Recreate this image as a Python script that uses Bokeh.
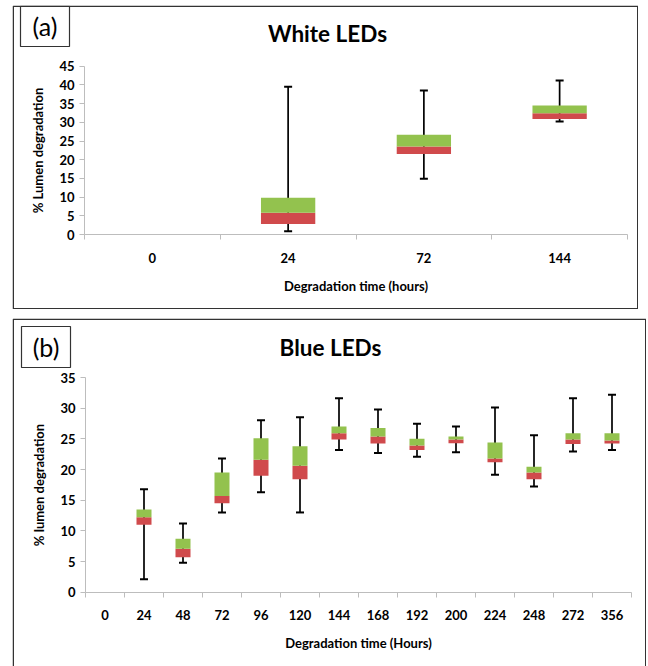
from bokeh.plotting import figure
from bokeh.models import Label, FixedTicker, Range1d, ColumnDataSource, BoxAnnotation
from bokeh.layouts import column
from bokeh.embed import file_html
from bokeh.resources import INLINE

# ---------------- data: panel (a) White LEDs ----------------
cats_a = ["0", "24", "72", "144"]
box_cats_a = ["24", "72", "144"]
low_a = [0.9, 14.9, 30.2]
q1_a = [2.8, 21.5, 30.9]
med_a = [5.8, 23.5, 32.4]
q3_a = [9.8, 26.7, 34.5]
high_a = [39.5, 38.5, 41.2]
yticks_a = [0, 5, 10, 15, 20, 25, 30, 35, 40, 45]

# ---------------- data: panel (b) Blue LEDs ----------------
cats_b = ["0", "24", "48", "72", "96", "120", "144", "168", "192", "200",
          "224", "248", "272", "356"]
box_cats_b = ["24", "48", "72", "96", "120", "144", "168", "192", "200",
              "224", "248", "272", "356"]
low_b = [2.1, 4.8, 13.0, 16.3, 13.0, 23.2, 22.7, 22.1, 22.8, 19.15, 17.25, 22.95, 23.2]
q1_b = [11.0, 5.7, 14.5, 19.0, 18.4, 24.9, 24.25, 23.2, 24.3, 21.2, 18.4, 24.15, 24.25]
med_b = [12.2, 7.1, 15.7, 21.6, 20.6, 25.9, 25.4, 23.9, 24.9, 21.8, 19.5, 24.9, 24.75]
q3_b = [13.5, 8.7, 19.5, 25.1, 23.8, 27.0, 26.75, 25.0, 25.4, 24.4, 20.45, 25.9, 25.9]
high_b = [16.8, 11.2, 21.8, 28.05, 28.5, 31.6, 29.8, 27.45, 27.0, 30.1, 25.6, 31.6, 32.2]
yticks_b = [0, 5, 10, 15, 20, 25, 30, 35]

GREEN = "#93C24E"
RED = "#D04A4C"
AXIS_GRAY = "#BDBDBD"
EDGE = "#333333"
FONT = "Lato"


def make_panel(cats, box_cats, low, q1, med, q3, high, yticks, ymax,
               width, height, plot_left, plot_right, plot_top, plot_bottom,
               bar_w, letter, letter_box, title, title_xy, xlabel, ylabel,
               x_std, xl_std, yl_std, margin):
    # plot_* : pixel positions of the axes area inside the panel
    n = len(cats)
    cw = (plot_right - plot_left) / n
    py = (plot_bottom - plot_top) / ymax
    x_range = Range1d(-plot_left / cw, n + (width - plot_right) / cw)
    y_range = Range1d(-(height - plot_bottom) / py, ymax + plot_top / py)

    pos = [cats.index(c) + 0.5 for c in box_cats]
    src = ColumnDataSource(dict(x=pos, low=low, q1=q1, med=med, q3=q3, high=high))

    p = figure(width=width, height=height, output_backend="svg",
               toolbar_location=None, x_range=x_range, y_range=y_range,
               min_border=0, title=None)
    p.margin = margin
    p.outline_line_color = None
    p.xgrid.visible = False
    p.ygrid.visible = False
    p.background_fill_color = "white"
    p.border_fill_color = "white"

    # whiskers
    p.segment(x0="x", y0="low", x1="x", y1="high", source=src,
              line_color="black", line_width=1.7)
    # boxes
    p.vbar(x="x", bottom="q1", top="med", width=bar_w, source=src,
           fill_color=RED, line_color=None)
    p.vbar(x="x", bottom="med", top="q3", width=bar_w, source=src,
           fill_color=GREEN, line_color=None)
    # caps
    p.scatter(x="x", y="high", source=src, marker="dash", size=8,
              line_color="black", line_width=2)
    p.scatter(x="x", y="low", source=src, marker="dash", size=8,
              line_color="black", line_width=2)

    # x axis
    xa = p.xaxis[0]
    xa.fixed_location = 0
    xa.bounds = (0, n)
    xa.ticker = FixedTicker(ticks=[i + 0.5 for i in range(n)],
                            minor_ticks=list(range(n + 1)))
    xa.major_label_overrides = {i + 0.5: c for i, c in enumerate(cats)}
    xa.major_tick_out = 0
    xa.major_tick_in = 0
    xa.minor_tick_out = 5
    xa.minor_tick_in = 0
    xa.minor_tick_line_color = AXIS_GRAY
    xa.axis_line_color = AXIS_GRAY
    xa.major_label_standoff = x_std
    xa.major_label_text_font = FONT
    xa.major_label_text_font_style = "bold"
    xa.major_label_text_font_size = "13px"
    xa.major_label_text_color = "black"
    xa.axis_label = xlabel
    xa.axis_label_text_font = FONT
    xa.axis_label_text_font_style = "bold"
    xa.axis_label_text_font_size = "13px"
    xa.axis_label_text_color = "black"
    xa.axis_label_standoff = xl_std

    # y axis
    ya = p.yaxis[0]
    ya.fixed_location = 0
    ya.bounds = (0, ymax)
    ya.ticker = FixedTicker(ticks=yticks, minor_ticks=[])
    ya.major_tick_out = 5
    ya.major_tick_in = 0
    ya.major_tick_line_color = AXIS_GRAY
    ya.minor_tick_line_color = None
    ya.axis_line_color = AXIS_GRAY
    ya.major_label_standoff = 5
    ya.major_label_text_font = FONT
    ya.major_label_text_font_style = "bold"
    ya.major_label_text_font_size = "13px"
    ya.major_label_text_color = "black"
    ya.axis_label = ylabel
    ya.axis_label_text_font = FONT
    ya.axis_label_text_font_style = "bold"
    ya.axis_label_text_font_size = "13px"
    ya.axis_label_text_color = "black"
    ya.axis_label_standoff = yl_std

    # outer panel frame
    p.add_layout(BoxAnnotation(left=0.75, right=width - 0.75,
                               bottom=-3 if height > 330 else 0.75,
                               top=height - 0.75,
                               left_units="screen", right_units="screen",
                               top_units="screen", bottom_units="screen",
                               fill_color=None, fill_alpha=0,
                               line_color=EDGE, line_alpha=1.0,
                               line_width=1.5))
    # panel letter box
    lx0, lx1, ly0, ly1 = letter_box  # left, right, top, bottom (from panel top)
    p.add_layout(BoxAnnotation(left=lx0, right=lx1, top=height - ly0,
                               bottom=height - ly1,
                               left_units="screen", right_units="screen",
                               top_units="screen", bottom_units="screen",
                               fill_color=None, fill_alpha=0,
                               line_color=EDGE, line_alpha=1.0,
                               line_width=1.2))
    p.add_layout(Label(x=(lx0 + lx1) / 2, y=height - (ly0 + ly1) / 2,
                       x_units="screen", y_units="screen", text=letter,
                       text_font=FONT, text_font_size="25px",
                       text_color="black", text_align="center",
                       text_baseline="middle"))
    # title
    p.add_layout(Label(x=title_xy[0], y=height - title_xy[1],
                       x_units="screen", y_units="screen", text=title,
                       text_font=FONT, text_font_size="22.5px",
                       text_font_style="bold", text_color="black",
                       text_align="center", text_baseline="middle"))
    return p


pa = make_panel(cats_a, box_cats_a, low_a, q1_a, med_a, q3_a, high_a,
                yticks_a, 45, 626, 304, 72, 615, 60.7, 229, 0.40,
                "(a)", (8, 57, 0.75, 41), "White LEDs", (315, 28),
                "Degradation time (hours)", "% Lumen degradation",
                13, 12, 10, (5, 0, 0, 12))

pb = make_panel(cats_b, box_cats_b, low_b, q1_b, med_b, q3_b, high_b,
                yticks_b, 35, 634, 348, 73, 619, 59, 273.7, 0.385,
                "(b)", (9, 58, 8, 49), "Blue LEDs", (318, 29),
                "Degradation time (Hours)", "% lumen degradation",
                13, 11, 10, (9, 0, 0, 12))

layout = column(pa, pb, spacing=0)
open("out.html", "w").write(file_html(layout, INLINE))
